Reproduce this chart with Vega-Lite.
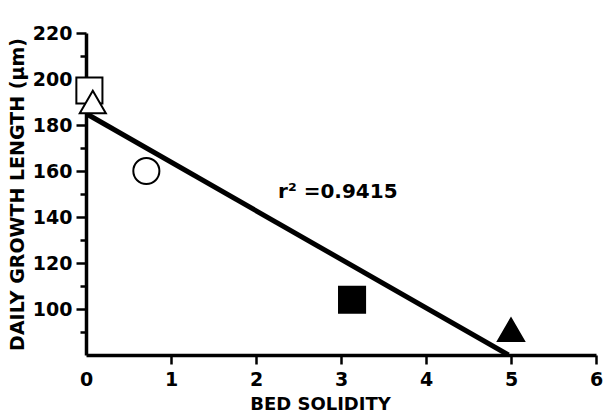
{
  "$schema": "https://vega.github.io/schema/vega-lite/v6.json",
  "width": 510,
  "height": 322,
  "autosize": {"type": "none"},
  "padding": {"left": 86, "top": 33, "right": 9, "bottom": 59},
  "background": "white",
  "config": {"view": {"stroke": null}, "font": "DejaVu Sans"},
  "datasets": {
    "points": [
      {"solidity": 0.04, "growth": 195, "marker": "square", "fill": "open"},
      {"solidity": 0.08, "growth": 190, "marker": "triangle", "fill": "open"},
      {"solidity": 0.71, "growth": 160, "marker": "circle", "fill": "open"},
      {"solidity": 3.13, "growth": 104, "marker": "square", "fill": "solid"},
      {"solidity": 5.0, "growth": 91, "marker": "triangle", "fill": "solid"}
    ],
    "fit": [
      {"solidity": 0, "growth": 185},
      {"solidity": 4.97, "growth": 80}
    ],
    "note": [
      {"solidity": 2.26, "growth": 151, "label": "r² =0.9415"}
    ]
  },
  "resolve": {"axis": {"y": "independent"}},
  "layer": [
    {
      "data": {"name": "fit"},
      "mark": {"type": "line", "color": "black", "strokeWidth": 5, "clip": true},
      "encoding": {
        "x": {
          "field": "solidity", "type": "quantitative",
          "scale": {"domain": [0, 6], "nice": false, "zero": false},
          "axis": {
            "values": [0, 1, 2, 3, 4, 5, 6],
            "format": "d",
            "grid": false,
            "domainColor": "black", "domainWidth": 3.5,
            "tickColor": "black", "tickWidth": 2.5, "tickSize": 9,
            "tickOpacity": {"condition": {"test": "datum.value == 0", "value": 0}, "value": 1},
            "labelColor": "black", "labelFont": "DejaVu Sans", "labelFontWeight": "bold", "labelFontSize": 19,
            "labelPadding": 6, "labelFlush": false, "labelOverlap": false,
            "title": "BED  SOLIDITY",
            "titleFont": "DejaVu Sans", "titleFontWeight": "bold", "titleFontSize": 18, "titleColor": "black",
            "titlePadding": 6, "titleX": 234
          }
        },
        "y": {
          "field": "growth", "type": "quantitative",
          "scale": {"domain": [80, 220], "nice": false, "zero": false},
          "axis": {
            "orient": "left",
            "values": [100, 120, 140, 160, 180, 200, 220],
            "format": "d",
            "labelOverlap": false,
            "grid": false,
            "domainColor": "black", "domainWidth": 3.5,
            "tickColor": "black", "tickWidth": 2.5, "tickSize": 10,
            "labelColor": "black", "labelFont": "DejaVu Sans", "labelFontWeight": "bold", "labelFontSize": 19,
            "labelPadding": 4,
            "title": "DAILY  GROWTH  LENGTH (μm)",
            "titleFont": "DejaVu Sans", "titleFontWeight": "bold", "titleFontSize": 19, "titleColor": "black",
            "titlePadding": 5
          }
        }
      }
    },
    {
      "data": {"name": "points"},
      "mark": {"type": "point", "filled": true, "size": 680, "stroke": "black", "strokeWidth": 2, "opacity": 1},
      "encoding": {
        "x": {"field": "solidity", "type": "quantitative"},
        "y": {
          "field": "growth", "type": "quantitative",
          "axis": {
            "orient": "left",
            "values": [90, 110, 130, 150, 170, 190, 210],
            "labels": false, "domain": false, "grid": false, "title": null,
            "tickColor": "black", "tickWidth": 2.5, "tickSize": 6
          }
        },
        "shape": {
          "field": "marker", "type": "nominal",
          "scale": {"domain": ["square", "triangle", "circle"], "range": ["square", "triangle-up", "circle"]},
          "legend": null
        },
        "fill": {
          "field": "fill", "type": "nominal",
          "scale": {"domain": ["open", "solid"], "range": ["white", "black"]},
          "legend": null
        }
      }
    },
    {
      "data": {"name": "note"},
      "mark": {"type": "text", "align": "left", "baseline": "middle", "fontSize": 20, "fontWeight": "bold", "font": "DejaVu Sans", "color": "black"},
      "encoding": {
        "x": {"field": "solidity", "type": "quantitative"},
        "y": {"field": "growth", "type": "quantitative", "axis": null},
        "text": {"field": "label"}
      }
    }
  ]
}
